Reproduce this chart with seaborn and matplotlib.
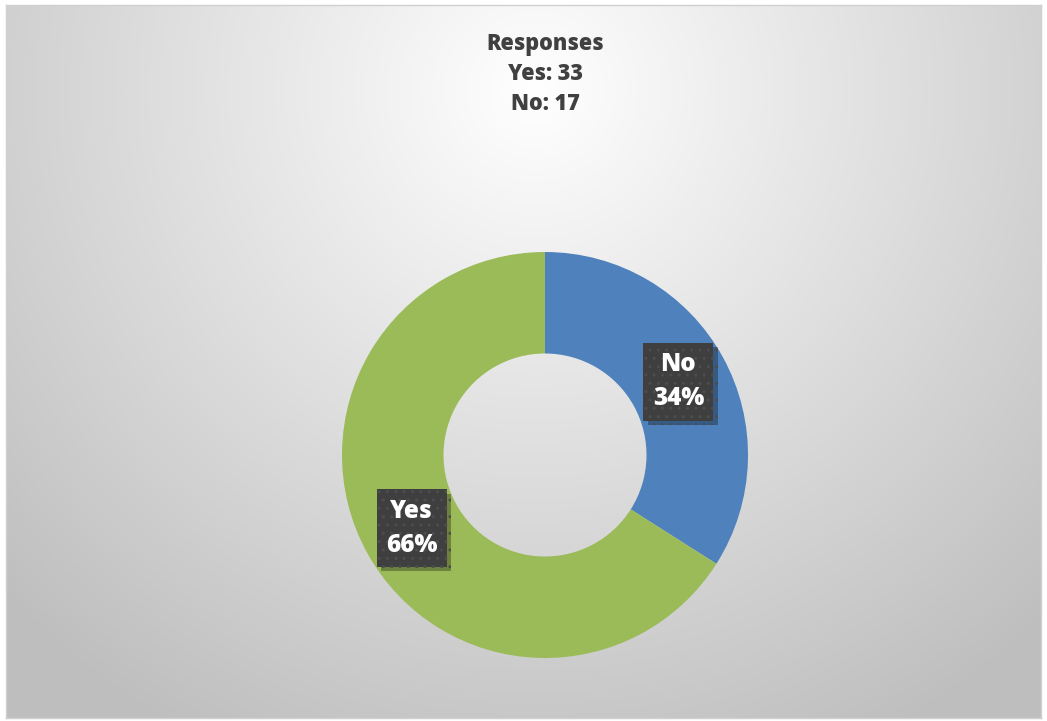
import numpy as np
import matplotlib
matplotlib.use("Agg")
import matplotlib.pyplot as plt
import matplotlib.patheffects as pe
import seaborn as sns

# ---- data ----
categories = ["No", "Yes"]
counts = [17, 33]
title_lines = ["Responses", "Yes: 33", "No: 17"]
colors = ["#4F81BD", "#9BBB59"]

sns.set_theme(style="white")
plt.rcParams['font.family'] = ['Open Sans', 'DejaVu Sans']

W, H = 1047, 721
fig = plt.figure(figsize=(W / 100, H / 100), dpi=100)
fig.patch.set_facecolor("white")

# ---- chart area with radial gradient background ----
x0, y0, x1, y1 = 6, 5, 1041, 718
bg = fig.add_axes([x0 / W, 1 - y1 / H, (x1 - x0) / W, (y1 - y0) / H], zorder=0)
yy, xx = np.mgrid[y0:y1, x0:x1]
d = np.sqrt((xx - 535.0) ** 2 + (yy - 90.0) ** 2)
val = np.clip(255 - 0.088 * d, 190, 255) / 255.0
rgb = np.dstack([val, val, val])
bg.imshow(rgb, aspect="auto", interpolation="bilinear")
bg.set_xticks([]); bg.set_yticks([])
for s in bg.spines.values():
    s.set_color("#d0d0d0")
    s.set_linewidth(1)

# ---- donut ----
cx, cy, r = 545, 455, 203
ax = fig.add_axes([(cx - r) / W, 1 - (cy + r) / H, 2 * r / W, 2 * r / H], zorder=1)
ax.set_facecolor("none")
wedges, _ = ax.pie(counts, colors=colors, startangle=90, counterclock=False,
                   radius=1.0, wedgeprops=dict(width=0.5, edgecolor="none"))
ax.set_xlim(-1, 1); ax.set_ylim(-1, 1)
ax.set_aspect("equal")
ax.axis("off")

total = sum(counts)
for w, cat, c in zip(wedges, categories, counts):
    ang = np.deg2rad((w.theta1 + w.theta2) / 2)
    lx, ly = 0.75 * np.cos(ang), 0.75 * np.sin(ang)
    label = f"{cat}\n{round(100 * c / total)}%"
    t = ax.text(lx, ly, label, ha="center", va="center", fontsize=17.5,
                fontweight="heavy", color="white", linespacing=1.5,
                bbox=dict(boxstyle="square,pad=0.38", facecolor="#3f3f3f",
                          edgecolor="#4d4d4d", hatch="..", linewidth=0),
                zorder=4)
    t.get_bbox_patch().set_path_effects(
        [pe.SimplePatchShadow(offset=(3, -3), shadow_rgbFace="black", alpha=0.3), pe.Normal()])

# ---- title ----
fig.text(cx / W, 1 - 74 / H, "\n".join(title_lines), ha="center", va="center",
         fontsize=15.6, fontweight="heavy", color="#404040", linespacing=1.35)

fig.savefig("out.png", dpi=100)
